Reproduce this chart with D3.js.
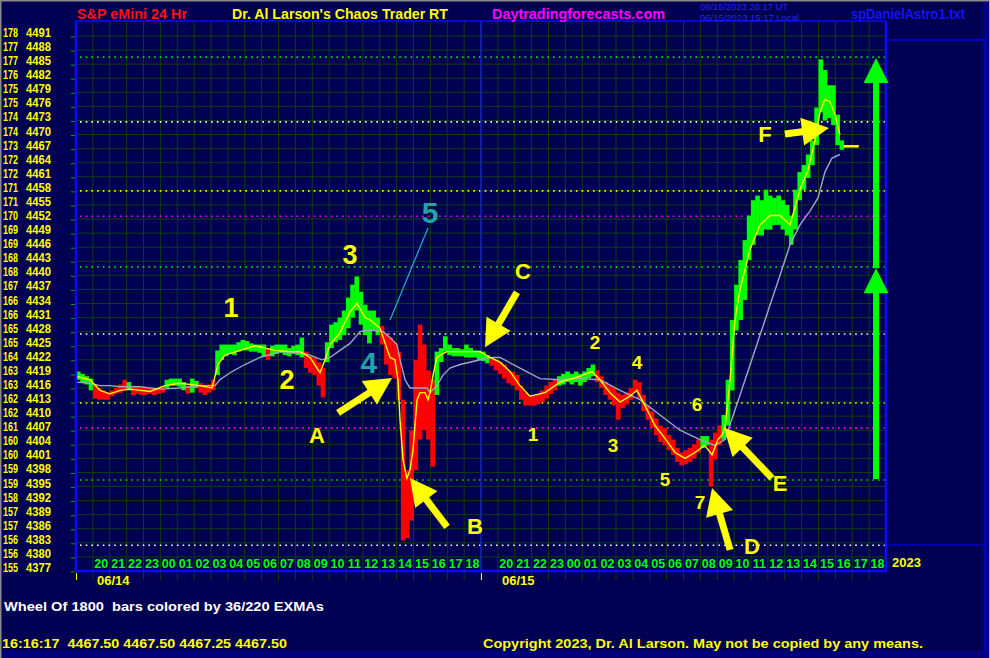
<!DOCTYPE html>
<html><head><meta charset="utf-8">
<script src="https://cdn.jsdelivr.net/npm/d3@7"></script>
<style>html,body{margin:0;padding:0;background:#000052;overflow:hidden}</style>
</head><body>
<svg id="c" width="990" height="658"></svg>
<script>
// ---------------- DATA ----------------
const tickPrices = [4491,4488,4485,4482,4479,4476,4473,4470,4467,4464,4461,4458,4455,4452,4449,4446,4443,4440,4437,4434,4431,4428,4425,4422,4419,4416,4413,4410,4407,4404,4401,4398,4395,4392,4389,4386,4383,4380,4377];
const tickDegrees = [178,177,177,176,175,175,174,174,173,172,172,171,171,170,169,169,168,168,167,166,166,165,165,164,163,163,162,162,161,160,160,159,159,158,157,157,156,156,155];
const hourLabels = ["19","20","21","22","23","00","01","02","03","04","05","06","07","08","09","10","11","12","13","14","15","16","17","18"];
const dayLabels = ["06/14","06/15"];
const yearLabel = "2023";

// 15-minute bars, starting at 06/13 19:00 (hours from start = index * barStep)
const barStep = 0.25;
const barHigh = [
4419.5,4419,4418.5,4418,4416.75,4416,4415.5,4415,4415.5,4416,
4416.75,4417.75,4417.25,4416.5,4416.25,4416,4416,4416,4416,4416,
4416.25,4417.75,4418,4418,4418,4417.25,4416.5,4418,4417.5,4417,
4416.5,4416.75,4417.75,4424,4425.25,4425.25,4425.25,4425.25,4425.75,4426.25,
4426,4425.5,4425.25,4425.25,4425.25,4424.5,4425,4425.25,4425.25,4425.25,
4424.5,4425,4425.25,4426.75,4423.75,4422.75,4422.5,4421.5,4420.25,4425.75,
4429.5,4430,4431,4432.5,4435.25,4438,4439.75,4436.5,4433.75,4432.5,
4432.5,4431,4429.25,4427.75,4426.75,4425.75,4423.75,4413.5,4398.5,4407,
4422,4429.5,4425.25,4419.75,4417.75,4423.75,4424.5,4427,4425.25,4424.5,
4424.5,4424.25,4425.25,4424.5,4424,4424,4423.75,4423,4422.5,4422,
4421.5,4421,4419.75,4419.5,4418.75,4416.5,4415,4414.5,4414.25,4414.5,
4415.5,4416.5,4417.25,4417.75,4418.5,4419,4419.5,4419,4419.5,4419,
4419.5,4420.25,4421,4419.75,4418.5,4417.25,4416.5,4416,4415,4414.5,
4415,4416,4417.75,4417.25,4414.5,4412.25,4411,4409.5,4408,4407.5,
4406,4405,4403.25,4402.25,4402.75,4403.25,4404,4405,4405.75,4405.75,
4405,4406.5,4408,4410.25,4417.75,4430.5,4438,4443.25,4447.5,4452.75,
4456,4457,4456,4458.25,4457,4456.5,4457,4456,4455,4452.75,
4458.25,4462,4463.5,4465.75,4468.75,4475.75,4486,4483.75,4480.5,4480.5,
4474.25,4468.75];
const barLow = [
4417.75,4417.25,4416.75,4415.5,4413.75,4413.5,4413.5,4413.5,4414.25,4414.75,
4415,4415.5,4415.5,4414.5,4414.75,4414.5,4414.5,4414.75,4414.5,4414.75,
4415,4416,4416.5,4416.5,4416.25,4415.5,4414.75,4415,4416,4415,
4414.5,4415,4415.5,4418.75,4422,4422.75,4423.25,4423,4423.75,4424,
4424,4423.75,4423.75,4423.5,4422.75,4422,4422.75,4423.25,4423.5,4423,
4422.75,4423.25,4423,4422.5,4420.25,4419.25,4418.75,4416.5,4414,4421.5,
4424.5,4425.75,4426.25,4427.25,4428.75,4431,4432.5,4429.5,4427.25,4425.5,
4428.25,4427.25,4425.25,4421,4418.75,4418,4413.5,4383.5,4384,4387.75,
4398.5,4405,4407,4405,4399.25,4414.5,4421.5,4423.75,4423,4422.75,
4422.75,4422.75,4422.5,4422.5,4422.5,4422,4421.75,4421.25,4420.75,4419.75,
4419,4418,4417,4416.5,4415.5,4413.5,4412.25,4412.25,4412.25,4412.5,
4413,4413.75,4414.75,4415.5,4416.5,4416.75,4417.25,4416.75,4417.25,4416.5,
4417.25,4418,4418.5,4417.25,4416,4414.5,4413.5,4412.25,4409.25,4411.75,
4412.5,4413.5,4415,4413.75,4411,4409.25,4407.5,4406,4404.5,4403.75,
4402.75,4401.75,4400.25,4399.5,4399.75,4400.25,4401,4402.25,4403.25,4403.75,
4395,4400.75,4403.75,4405,4408,4415.5,4428.25,4430.5,4434.75,4443.25,
4446.5,4448.5,4448.5,4449.75,4449.75,4450.75,4450.75,4449.75,4448.5,4446.5,
4449.75,4456,4458.25,4460.75,4463.5,4467.75,4474.75,4473,4473.5,4472,
4467.75,4466.75];
// bar colour runs (G = green bars, R = red bars), in bar order
const barColorRuns = [["G",4],["R",8],["G",1],["R",8],["G",5],["R",1],["G",2],["R",4],["G",12],["R",1],["G",8],["R",5],["G",13],["R",13],["G",13],["R",16],["G",9],["R",25],["G",2],["R",3],["G",29]];

// 36-period EMA (yellow) and 220-period EMA (gray): hours from start, price
const fastTime = [0,0.83,1.42,2.01,2.61,3.2,4.39,5.27,6.16,7.35,8.06,8.41,8.83,9.72,10.61,11.79,12.68,13.27,13.87,14.46,14.76,15.05,15.64,16.24,16.65,17.13,17.42,18.01,18.61,18.9,19.08,19.2,19.38,19.61,19.79,19.97,20.21,20.39,20.68,20.86,20.98,21.16,21.39,21.57,21.99,22.76,23.94,24.53,25.13,25.72,26.31,26.9,27.79,28.68,29.87,30.58,31.05,31.64,32.24,32.83,33.24,33.72,34.31,34.9,35.5,36.09,36.68,37.27,37.69,38.04,38.28,38.46,38.76,39.05,39.35,39.94,40.53,41.13,41.72,42.31,42.9,43.38,43.79,44.09,44.38,44.68,44.98,45.27];
const fastValue = [4418.5,4417.75,4415.5,4414.75,4415.5,4415.75,4415.25,4416.5,4417,4416.5,4416,4421,4423,4424,4425,4424,4423.75,4423.75,4422.5,4419.25,4422,4425.25,4427.75,4432.25,4434,4431,4430.5,4428.75,4422.5,4422,4417.75,4409.25,4400.75,4396.75,4398.5,4402.75,4413.5,4415,4415,4413.5,4415,4418.75,4422.5,4423,4423.75,4423.75,4423.75,4422.5,4421.5,4419.5,4416.5,4414.25,4415,4417.25,4418.5,4419.5,4417.75,4415,4413,4414.25,4415.5,4412.25,4408,4405.25,4402.25,4401,4402.25,4403.75,4401.75,4405,4406,4407.5,4417.75,4430.5,4437,4445.5,4450.75,4452.75,4452.75,4450.75,4458.25,4462.5,4468.75,4474.75,4477.5,4477,4474.25,4470];
const slowTime = [0,0.83,1.42,2.01,2.61,3.79,4.98,6.16,7.35,8.24,8.53,9.13,10.01,10.9,12.09,13.27,13.87,14.58,15.05,15.64,16.24,16.83,17.13,17.72,18.19,18.61,19.02,19.2,19.5,19.79,20.39,20.8,20.98,21.39,21.75,22.16,22.76,23.64,24.53,25.13,26.31,27.5,28.68,29.87,31.05,32.24,33.42,34.61,35.79,36.98,37.87,38.46,39.35,40.53,41.72,42.31,42.9,43.5,43.97,44.38,44.8,45.27];
const slowValue = [4417.25,4417,4416.5,4416.5,4416.25,4416.25,4415.75,4416,4416.5,4416.5,4417.75,4419.25,4421,4422.5,4423.75,4423.5,4423,4422,4422.5,4424,4425.5,4428,4428.25,4428.25,4428,4426.75,4425.25,4422,4417.75,4416,4416,4416,4415,4416.5,4418.75,4420.25,4421,4421.75,4422.5,4422.5,4420.25,4418,4417.75,4418,4417.75,4415.5,4413.5,4410.25,4407,4405,4403.75,4405,4414.5,4427.25,4440,4446.5,4450.75,4453.75,4456.5,4462,4465,4465.75];

// horizontal level lines (price) and their colours
const levelPrices = [4486.5,4472.7,4458,4452.6,4441.8,4427.5,4412.8,4407.5,4396.4,4382.5];
const levelKinds  = ["g","w","y","m","g","w","y","m","g","w"];
const lastPrice = 4467.5;

// annotations in data coordinates (hours, price)
const labelText  = ["1","2","3","4","5","A","B","C","1","2","3","4","5","6","7","D","E","F"];
const labelHour  = [9.19,12.5,16.24,17.36,20.98,14.28,23.64,26.49,27.08,30.76,31.82,33.24,34.9,36.8,36.98,40.06,41.72,40.83];
const labelPrice = [4433.0,4417.7,4444.3,4421.5,4453.3,4405.8,4386.4,4440.9,4406.0,4425.6,4403.8,4421.5,4396.4,4412.4,4391.7,4382.3,4395.7,4470.1];
const labelKind  = ["big","big","big","teal","teal","let","let","let","sm","sm","sm","sm","sm","sm","sm","let","let","let"];
// yellow arrows: tail (hour, price) -> tip (hour, price)
const arrowTailHour  = [15.53,21.99,26.13,38.76,41.24,42.01];
const arrowTailPrice = [4410.7,4386.4,4436.4,4381.5,4396.8,4470.1];
const arrowTipHour   = [18.73,19.79,24.24,37.69,38.4,44.62];
const arrowTipPrice  = [4418.1,4396.8,4424.7,4394.7,4407.5,4471.4];
// green target arrows (hour, from price, to price)
const targetHour = 47.41;
const targetFrom = [4396.6,4441.5];
const targetTo   = [4441.5,4486.3];
// teal line
const tealLineHour = [18.61,20.86];
const tealLinePrice = [4430.5,4450.1];

// ---------------- DRAW ----------------
const svg = d3.select("#c");
const W = 990, H = 658;
const L = 76, R = 886, T = 21, B = 571;
const x = d3.scaleLinear().domain([0, 48]).range([L, R]);
const y = d3.scaleLinear().domain([4377, 4491]).range([B, 36]);
const FONT = "'Liberation Sans', Arial, sans-serif";
const YEL = "#ffff00", GRN = "#00ff00", RED = "#ff0000";

svg.append("rect").attr("width", W).attr("height", H).attr("fill", "#000052");
// frame bits
svg.append("rect").attr("x", 0).attr("y", 651).attr("width", W).attr("height", 7).attr("fill", "#00007e");
svg.append("rect").attr("x", 983).attr("y", 0).attr("width", 6).attr("height", H).attr("fill", "#00008a");
svg.append("line").attr("x1", 0).attr("y1", 0.5).attr("x2", W).attr("y2", 0.5).attr("stroke", "#8a8a8a").attr("stroke-width", 2);
svg.append("line").attr("x1", 0.5).attr("y1", 0).attr("x2", 0.5).attr("y2", H).attr("stroke", "#8a8a8a").attr("stroke-width", 2);
svg.append("line").attr("x1", 989.5).attr("y1", 0).attr("x2", 989.5).attr("y2", H).attr("stroke", "#b0b0b0").attr("stroke-width", 1);
svg.append("line").attr("x1", R).attr("y1", 40).attr("x2", 985).attr("y2", 40).attr("stroke", "#0000c8").attr("stroke-width", 2);
svg.append("line").attr("x1", R).attr("y1", 545).attr("x2", 985).attr("y2", 545).attr("stroke", "#0000a8").attr("stroke-width", 2);

// grid
const grid = svg.append("g").attr("stroke", "#0e3e10").attr("stroke-width", 1);
d3.range(1, 48).forEach(h => {
  grid.append("line").attr("x1", x(h)).attr("x2", x(h)).attr("y1", T).attr("y2", 580);
});
tickPrices.forEach(p => {
  grid.append("line").attr("x1", L).attr("x2", R).attr("y1", y(p)).attr("y2", y(p));
});

// level dotted lines
const levelColor = {g: "#00e000", w: "#ffffff", y: "#ffff00", m: "#ff00ff"};
levelPrices.forEach((p, i) => {
  svg.append("line").attr("x1", L + 4).attr("x2", R).attr("y1", y(p)).attr("y2", y(p))
    .attr("stroke", levelColor[levelKinds[i]]).attr("stroke-width", 1.6)
    .attr("stroke-dasharray", "1.6,4.1");
});

// day divider
svg.append("line").attr("x1", x(24)).attr("x2", x(24)).attr("y1", T).attr("y2", B)
  .attr("stroke", "#1818ff").attr("stroke-width", 1.2);

// bars
const barColors = [];
barColorRuns.forEach(([c, n]) => { for (let k = 0; k < n; k++) barColors.push(c); });
const bw = x(barStep) - x(0);
svg.append("g").selectAll("rect").data(barHigh).join("rect")
  .attr("x", (d, i) => x(i * barStep))
  .attr("width", bw + 0.4)
  .attr("y", d => y(d))
  .attr("height", (d, i) => Math.max(1.5, y(barLow[i]) - y(d)))
  .attr("fill", (d, i) => barColors[i] === "G" ? GRN : RED);

// EMAs
const line = d3.line().x(d => x(d[0])).y(d => y(d[1]));
svg.append("path").attr("d", line(slowTime.map((t, i) => [t, slowValue[i]])))
  .attr("fill", "none").attr("stroke", "#a4a4c4").attr("stroke-width", 1.4);
svg.append("path").attr("d", line(fastTime.map((t, i) => [t, fastValue[i]])))
  .attr("fill", "none").attr("stroke", YEL).attr("stroke-width", 1.4);

// last price marker
const lastH = barHigh.length * barStep;
svg.append("line").attr("x1", x(lastH)).attr("x2", x(lastH) + 15).attr("y1", y(lastPrice)).attr("y2", y(lastPrice))
  .attr("stroke", YEL).attr("stroke-width", 2.5);

// borders
const bord = svg.append("g").attr("stroke", "#0a0aff");
bord.append("line").attr("x1", L).attr("x2", R).attr("y1", T).attr("y2", T).attr("stroke-width", 1.5);
bord.append("line").attr("x1", L).attr("x2", L).attr("y1", T).attr("y2", B + 1).attr("stroke-width", 2.5);
bord.append("line").attr("x1", R).attr("x2", R).attr("y1", T).attr("y2", B + 1).attr("stroke-width", 2.5);
bord.append("line").attr("x1", L).attr("x2", R + 1).attr("y1", B).attr("y2", B).attr("stroke-width", 2.5);
svg.append("line").attr("x1", 985).attr("x2", 985).attr("y1", 40).attr("y2", 651).attr("stroke", "#0000b8").attr("stroke-width", 2);

// y-axis labels and ticks
const yl = svg.append("g").attr("font-family", FONT).attr("font-weight", "bold").attr("font-size", 13.5).attr("fill", YEL);
tickPrices.forEach((p, i) => {
  yl.append("text").attr("x", 3).attr("y", y(p) + 1).attr("textLength", 15).attr("lengthAdjust", "spacingAndGlyphs").text(tickDegrees[i]);
  yl.append("text").attr("x", 26).attr("y", y(p) + 1).attr("textLength", 25).attr("lengthAdjust", "spacingAndGlyphs").text(p);
  svg.append("line").attr("x1", 71).attr("x2", 75).attr("y1", y(p) + 1).attr("y2", y(p) + 1).attr("stroke", "#00a000").attr("stroke-width", 1);
});

// x-axis hour labels
const xl = svg.append("g").attr("font-family", FONT).attr("font-weight", "bold").attr("font-size", 12.5).attr("fill", GRN).attr("text-anchor", "middle");
[0, 1].forEach(day => {
  hourLabels.forEach((lab, k) => {
    if (k === 0) return;
    xl.append("text").attr("x", x(day * 24 + k + 0.5)).attr("y", 568).text(lab);
  });
  svg.append("line").attr("x1", x(day * 24) + 0.5).attr("x2", x(day * 24) + 0.5).attr("y1", 573).attr("y2", 580).attr("stroke", YEL).attr("stroke-width", 1);
  svg.append("text").attr("x", x(day * 24) + 21).attr("y", 585).attr("font-family", FONT).attr("font-weight", "bold")
    .attr("font-size", 13).attr("fill", YEL).text(dayLabels[day]);
});
svg.append("text").attr("x", 892).attr("y", 567).attr("font-family", FONT).attr("font-weight", "bold")
  .attr("font-size", 13).attr("fill", YEL).text(yearLabel);

// header
const hd = svg.append("g").attr("font-family", FONT).attr("font-weight", "bold").attr("font-size", 14);
hd.append("text").attr("x", 77).attr("y", 19).attr("fill", "#ff1010").attr("textLength", 110).attr("lengthAdjust", "spacingAndGlyphs").text("S&P eMini 24 Hr");
hd.append("text").attr("x", 232).attr("y", 19).attr("fill", YEL).attr("textLength", 216).attr("lengthAdjust", "spacingAndGlyphs").text("Dr. Al Larson's Chaos Trader RT");
hd.append("text").attr("x", 492).attr("y", 19).attr("fill", "#ff00ff").attr("textLength", 173).attr("lengthAdjust", "spacingAndGlyphs").text("Daytradingforecasts.com");
hd.append("text").attr("x", 851).attr("y", 19).attr("fill", "#1414f0").attr("textLength", 114).attr("lengthAdjust", "spacingAndGlyphs").text("spDanielAstro1.txt");
const ut = svg.append("g").attr("font-family", FONT).attr("font-size", 9.5).attr("fill", "#2424ff");
ut.append("text").attr("x", 700).attr("y", 9.5).attr("textLength", 88).attr("lengthAdjust", "spacingAndGlyphs").text("06/15/2023 20:17 UT");
ut.append("text").attr("x", 700).attr("y", 20.5).attr("textLength", 99).attr("lengthAdjust", "spacingAndGlyphs").text("06/15/2023 15:17 Local");

// footer
const ft = svg.append("g").attr("font-family", FONT).attr("font-weight", "bold").attr("font-size", 12);
ft.append("text").attr("xml:space", "preserve").style("white-space", "pre").attr("x", 4).attr("y", 611).attr("fill", "#ffffff").attr("textLength", 320).attr("lengthAdjust", "spacingAndGlyphs")
  .text("Wheel Of 1800  bars colored by 36/220 EXMAs");
ft.append("text").attr("xml:space", "preserve").style("white-space", "pre").attr("x", 2).attr("y", 648).attr("fill", YEL).attr("textLength", 285).attr("lengthAdjust", "spacingAndGlyphs")
  .text("16:16:17  4467.50 4467.50 4467.25 4467.50");
ft.append("text").attr("x", 483).attr("y", 648).attr("fill", YEL).attr("textLength", 440).attr("lengthAdjust", "spacingAndGlyphs")
  .text("Copyright 2023, Dr. Al Larson. May not be copied by any means.");

// annotations
function arrow(g, x1, y1, x2, y2, color, sw, hl, hw) {
  const dx = x2 - x1, dy = y2 - y1, len = Math.hypot(dx, dy), ux = dx / len, uy = dy / len;
  const bx = x2 - ux * hl, by = y2 - uy * hl, px = -uy, py = ux;
  g.append("line").attr("x1", x1).attr("y1", y1).attr("x2", bx + ux * 2).attr("y2", by + uy * 2)
    .attr("stroke", color).attr("stroke-width", sw);
  g.append("polygon").attr("points", [[x2, y2], [bx + px * hw, by + py * hw], [bx - px * hw, by - py * hw]].map(p => p.join(",")).join(" "))
    .attr("fill", color);
}
const ann = svg.append("g");
ann.append("line").attr("x1", x(tealLineHour[0])).attr("y1", y(tealLinePrice[0]))
  .attr("x2", x(tealLineHour[1])).attr("y2", y(tealLinePrice[1])).attr("stroke", "#20a8c8").attr("stroke-width", 1.3);
arrowTipHour.forEach((h, i) => {
  arrow(ann, x(arrowTailHour[i]), y(arrowTailPrice[i]), x(h), y(arrowTipPrice[i]), YEL, 7, 27, 14);
});
targetFrom.forEach((p, i) => {
  arrow(ann, x(targetHour), y(p), x(targetHour), y(targetTo[i]), GRN, 6, 25, 12.5);
});
const labelStyle = {
  big: {size: 27, color: YEL},
  teal: {size: 30, color: "#22a2ac"},
  let: {size: 22, color: YEL},
  sm: {size: 19, color: YEL}
};
labelText.forEach((t, i) => {
  const st = labelStyle[labelKind[i]];
  ann.append("text").attr("x", x(labelHour[i])).attr("y", y(labelPrice[i]))
    .attr("text-anchor", "middle").attr("dominant-baseline", "central")
    .attr("font-family", FONT).attr("font-weight", "bold").attr("font-size", st.size)
    .attr("fill", st.color).text(t);
});
</script>
</body></html>
